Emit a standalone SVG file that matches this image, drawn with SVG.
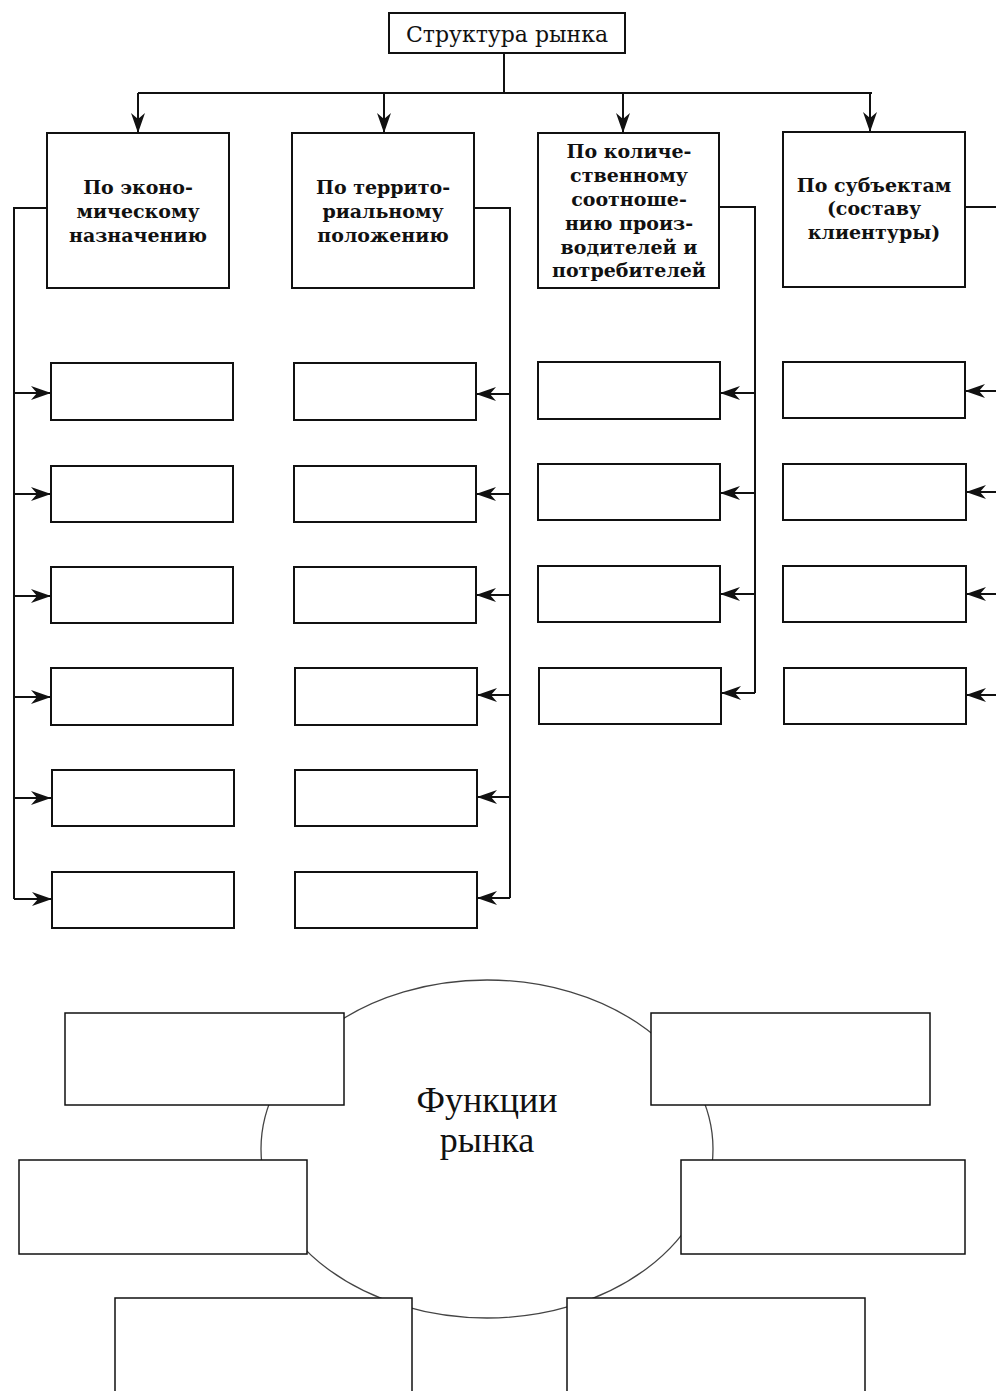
<svg xmlns="http://www.w3.org/2000/svg" width="996" height="1391" viewBox="0 0 996 1391">
<defs>
<style>
.box{fill:#fff;stroke:#111;stroke-width:2}
.sbox{fill:#fff;stroke:#111;stroke-width:2}
.fbox{fill:#fff;stroke:#111;stroke-width:1.5}
.ln{fill:none;stroke:#111;stroke-width:2}
.t{font-family:"DejaVu Serif","Liberation Serif",serif;font-size:19px;font-weight:bold;fill:#111;text-anchor:middle}
.title{font-family:"DejaVu Serif","Liberation Serif",serif;font-size:22px;fill:#111;text-anchor:middle}
.fn{font-family:"Liberation Serif","Times New Roman",serif;font-size:36px;fill:#111;text-anchor:middle}
</style>
<marker id="ah" viewBox="0 0 20 14" refX="20" refY="7" markerWidth="20" markerHeight="14" markerUnits="userSpaceOnUse" orient="auto">
<path d="M0,0 L20,7 L0,14 L6,7 z" fill="#111"/>
</marker>
</defs>
<rect width="996" height="1391" fill="#fff"/>

<g id="connectors">
<path class="ln" d="M504,53 V93 M138,93 H872"/>
<path class="ln" d="M138,93 V133" marker-end="url(#ah)"/>
<path class="ln" d="M384,93 V133" marker-end="url(#ah)"/>
<path class="ln" d="M623,93 V133" marker-end="url(#ah)"/>
<path class="ln" d="M870,93 V132" marker-end="url(#ah)"/>

<path class="ln" d="M47,208 H14 V899"/>
<path class="ln" d="M14,393 H51" marker-end="url(#ah)"/>
<path class="ln" d="M14,494 H51" marker-end="url(#ah)"/>
<path class="ln" d="M14,596 H51" marker-end="url(#ah)"/>
<path class="ln" d="M14,697 H51" marker-end="url(#ah)"/>
<path class="ln" d="M14,798 H51" marker-end="url(#ah)"/>
<path class="ln" d="M14,899 H52" marker-end="url(#ah)"/>

<path class="ln" d="M474,208 H510 V898"/>
<path class="ln" d="M510,394 H476" marker-end="url(#ah)"/>
<path class="ln" d="M510,494 H476" marker-end="url(#ah)"/>
<path class="ln" d="M510,595 H476" marker-end="url(#ah)"/>
<path class="ln" d="M510,695 H477" marker-end="url(#ah)"/>
<path class="ln" d="M510,797 H477" marker-end="url(#ah)"/>
<path class="ln" d="M510,898 H477" marker-end="url(#ah)"/>

<path class="ln" d="M719,207 H755 V693"/>
<path class="ln" d="M755,393 H720" marker-end="url(#ah)"/>
<path class="ln" d="M755,493 H720" marker-end="url(#ah)"/>
<path class="ln" d="M755,594 H720" marker-end="url(#ah)"/>
<path class="ln" d="M755,693 H721" marker-end="url(#ah)"/>

<path class="ln" d="M965,207 H1000 V695"/>
<path class="ln" d="M1000,391 H965" marker-end="url(#ah)"/>
<path class="ln" d="M1000,492 H966" marker-end="url(#ah)"/>
<path class="ln" d="M1000,594 H966" marker-end="url(#ah)"/>
<path class="ln" d="M1000,695 H966" marker-end="url(#ah)"/>
</g>

<g id="title">
<rect class="box" x="389" y="13" width="236" height="40"/>
<text class="title" x="507" y="42">Структура рынка</text>
</g>

<g id="h1">
<rect class="box" x="47" y="133" width="182" height="155"/>
<text class="t" x="138" y="194">По эконо-</text>
<text class="t" x="138" y="218">мическому</text>
<text class="t" x="138" y="242">назначению</text>
</g>
<g id="h2">
<rect class="box" x="292" y="133" width="182" height="155"/>
<text class="t" x="383" y="194">По террито-</text>
<text class="t" x="383" y="218">риальному</text>
<text class="t" x="383" y="242">положению</text>
</g>
<g id="h3">
<rect class="box" x="538" y="133" width="181" height="155"/>
<text class="t" x="629" y="158">По количе-</text>
<text class="t" x="629" y="182">ственному</text>
<text class="t" x="629" y="206">соотноше-</text>
<text class="t" x="629" y="230">нию произ-</text>
<text class="t" x="629" y="254">водителей и</text>
<text class="t" x="629" y="277">потребителей</text>
</g>
<g id="h4">
<rect class="box" x="783" y="132" width="182" height="155"/>
<text class="t" x="874" y="192">По субъектам</text>
<text class="t" x="874" y="215">(составу</text>
<text class="t" x="874" y="239">клиентуры)</text>
</g>

<g id="c1">
<rect class="sbox" x="51" y="363" width="182" height="57"/>
<rect class="sbox" x="51" y="466" width="182" height="56"/>
<rect class="sbox" x="51" y="567" width="182" height="56"/>
<rect class="sbox" x="51" y="668" width="182" height="57"/>
<rect class="sbox" x="52" y="770" width="182" height="56"/>
<rect class="sbox" x="52" y="872" width="182" height="56"/>
</g>
<g id="c2">
<rect class="sbox" x="294" y="363" width="182" height="57"/>
<rect class="sbox" x="294" y="466" width="182" height="56"/>
<rect class="sbox" x="294" y="567" width="182" height="56"/>
<rect class="sbox" x="295" y="668" width="182" height="57"/>
<rect class="sbox" x="295" y="770" width="182" height="56"/>
<rect class="sbox" x="295" y="872" width="182" height="56"/>
</g>
<g id="c3">
<rect class="sbox" x="538" y="362" width="182" height="57"/>
<rect class="sbox" x="538" y="464" width="182" height="56"/>
<rect class="sbox" x="538" y="566" width="182" height="56"/>
<rect class="sbox" x="539" y="668" width="182" height="56"/>
</g>
<g id="c4">
<rect class="sbox" x="783" y="362" width="182" height="56"/>
<rect class="sbox" x="783" y="464" width="183" height="56"/>
<rect class="sbox" x="783" y="566" width="183" height="56"/>
<rect class="sbox" x="784" y="668" width="182" height="56"/>
</g>

<g id="functions">
<ellipse cx="487" cy="1149" rx="226" ry="169" fill="#fff" stroke="#444" stroke-width="1.3"/>
<text class="fn" x="487" y="1112">Функции</text>
<text class="fn" x="487" y="1152">рынка</text>
</g>
<g id="f1"><rect class="fbox" x="65" y="1013" width="279" height="92"/></g>
<g id="f2"><rect class="fbox" x="651" y="1013" width="279" height="92"/></g>
<g id="f3"><rect class="fbox" x="19" y="1160" width="288" height="94"/></g>
<g id="f4"><rect class="fbox" x="681" y="1160" width="284" height="94"/></g>
<g id="f5"><rect class="fbox" x="115" y="1298" width="297" height="110"/></g>
<g id="f6"><rect class="fbox" x="567" y="1298" width="298" height="110"/></g>
</svg>
